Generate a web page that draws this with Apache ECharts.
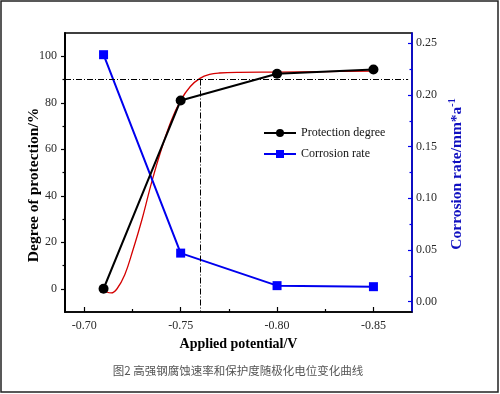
<!DOCTYPE html>
<html>
<head>
<meta charset="utf-8">
<script src="https://cdn.jsdelivr.net/npm/echarts@6/dist/echarts.min.js"></script>
<style>
html,body{margin:0;padding:0;background:#fff;}
#chart{width:500px;height:394px;}
</style>
</head>
<body>
<div id="chart"></div>
<script>
// Data
const potentials = [-0.71, -0.75, -0.80, -0.85];
const protectionDegree = [0, 81, 92.5, 94.3];
const corrosionRate = [0.239, 0.047, 0.0155, 0.0145];

// Red fitted curve
const fitPotentials = [-0.710, -0.712, -0.714, -0.717, -0.721, -0.725, -0.730, -0.735, -0.740, -0.745, -0.750, -0.755, -0.760, -0.765, -0.770, -0.780, -0.800, -0.825, -0.850];
const fitProtection = [0, -1.5, -1.8, 0, 6, 16, 30, 46, 60, 72, 81, 87, 90.5, 92.2, 92.8, 93.1, 93.2, 93.4, 93.6];

const xMajorTicks = [-0.70, -0.75, -0.80, -0.85];
const xMinorTicks = [-0.725, -0.775, -0.825];
const leftMajorTicks = [0, 20, 40, 60, 80, 100];
const leftMinorTicks = [10, 30, 50, 70, 90];
const rightMajorTicks = [0, 0.05, 0.10, 0.15, 0.20, 0.25];
const rightMinorTicks = [0.025, 0.075, 0.125, 0.175, 0.225];

const refLevel = 90;
const refPotential = -0.76;

const serif = '"Liberation Serif", "DejaVu Serif", serif';
const labelColor = '#2a2a2a';
const blue = '#0000ee';

const chart = echarts.init(document.getElementById('chart'));
const option = {
  animation: false,
  backgroundColor: '#ffffff',
  grid: {
    left: 65, right: 88, top: 33, bottom: 82,
    show: true, borderColor: '#000', borderWidth: 1.5, backgroundColor: 'transparent'
  },
  legend: {
    orient: 'vertical',
    left: 258, top: 122,
    itemWidth: 32, itemHeight: 10, itemGap: 9,
    data: ['Protection degree', 'Corrosion rate'],
    textStyle: { fontFamily: serif, fontSize: 12, color: '#111' }
  },
  xAxis: [
    {
      type: 'value', inverse: true, min: -0.87, max: -0.69, position: 'bottom',
      name: 'Applied potential/V', nameLocation: 'middle', nameGap: 24,
      nameTextStyle: { fontFamily: serif, fontSize: 14, fontWeight: 'bold', color: '#000' },
      axisLine: { show: true, onZero: false, lineStyle: { color: '#000', width: 1.5 } },
      axisTick: { show: true, inside: true, length: 5, customValues: xMajorTicks, lineStyle: { color: '#000', width: 1.2 } },
      axisLabel: { customValues: xMajorTicks, margin: 8, fontFamily: serif, fontSize: 12, color: labelColor,
        formatter: v => v.toFixed(2) },
      splitLine: { show: false }
    },
    {
      type: 'value', inverse: true, min: -0.87, max: -0.69, position: 'bottom',
      axisLine: { show: false, onZero: false },
      axisTick: { show: true, inside: true, length: 3, customValues: xMinorTicks, lineStyle: { color: '#000', width: 1.2 } },
      axisLabel: { show: false },
      splitLine: { show: false }
    }
  ],
  yAxis: [
    {
      type: 'value', min: -10, max: 110, position: 'left',
      axisLine: { show: true, onZero: false, lineStyle: { color: '#000', width: 2 } },
      axisTick: { show: true, inside: false, length: 4, customValues: leftMajorTicks, lineStyle: { color: '#000', width: 1.2 } },
      axisLabel: { customValues: leftMajorTicks, margin: 8, fontFamily: serif, fontSize: 12, color: labelColor },
      splitLine: { show: false }
    },
    {
      type: 'value', min: -0.01, max: 0.26, position: 'right',
      axisLine: { show: true, onZero: false, lineStyle: { color: blue, width: 1.5 } },
      axisTick: { show: true, inside: true, length: 4, customValues: rightMajorTicks, lineStyle: { color: blue, width: 1.2 } },
      axisLabel: { customValues: rightMajorTicks, margin: 4, fontFamily: serif, fontSize: 12, color: labelColor,
        formatter: v => v.toFixed(2) },
      splitLine: { show: false }
    },
    {
      type: 'value', min: -10, max: 110, position: 'left',
      axisLine: { show: false, onZero: false },
      axisTick: { show: true, inside: false, length: 2.5, customValues: leftMinorTicks, lineStyle: { color: '#000', width: 1.2 } },
      axisLabel: { show: false },
      splitLine: { show: false }
    },
    {
      type: 'value', min: -0.01, max: 0.26, position: 'right',
      axisLine: { show: false, onZero: false },
      axisTick: { show: true, inside: true, length: 2.5, customValues: rightMinorTicks, lineStyle: { color: blue, width: 1.2 } },
      axisLabel: { show: false },
      splitLine: { show: false }
    }
  ],
  series: [
    {
      name: 'Fit', type: 'line', xAxisIndex: 0, yAxisIndex: 0,
      data: fitPotentials.map((x, i) => [x, fitProtection[i]]),
      smooth: 0.4, showSymbol: false, symbol: 'none',
      lineStyle: { color: '#d40000', width: 1.3 },
      z: 2,
      markLine: {
        silent: true, symbol: 'none', label: { show: false },
        lineStyle: { color: '#000', width: 1, type: [6, 2, 1, 2] },
        data: [
          [{ coord: [-0.69, refLevel] }, { coord: [-0.868, refLevel] }],
          [{ coord: [refPotential, refLevel] }, { coord: [refPotential, -10] }]
        ]
      }
    },
    {
      name: 'Protection degree', type: 'line', xAxisIndex: 0, yAxisIndex: 0,
      data: potentials.map((x, i) => [x, protectionDegree[i]]),
      symbol: 'circle', symbolSize: 10,
      itemStyle: { color: '#000' },
      lineStyle: { color: '#000', width: 2 },
      z: 4
    },
    {
      name: 'Corrosion rate', type: 'line', xAxisIndex: 0, yAxisIndex: 1,
      data: potentials.map((x, i) => [x, corrosionRate[i]]),
      symbol: 'rect', symbolSize: 9,
      itemStyle: { color: '#0000ff' },
      lineStyle: { color: blue, width: 2 },
      z: 3
    }
  ],
  graphic: [
    {
      type: 'text', x: 34, y: 185, rotation: Math.PI / 2,
      style: { text: 'Degree of protection/%', fontFamily: serif, fontSize: 15.5, fontWeight: 'bold', fill: '#000',
        align: 'center', verticalAlign: 'middle' }
    },
    {
      type: 'text', x: 457, y: 174, rotation: Math.PI / 2,
      style: {
        text: '{a|Corrosion rate/mm*a}{s|-1}',
        align: 'center', verticalAlign: 'middle',
        rich: {
          a: { fontFamily: serif, fontSize: 15.5, fontWeight: 'bold', fill: '#1010c0', color: '#1010c0' },
          s: { fontFamily: serif, fontSize: 10, fontWeight: 'bold', fill: '#1010c0', color: '#1010c0', verticalAlign: 'top', padding: [0, 0, 9, 0] }
        }
      }
    },
    {
      type: 'text', x: 238, y: 371,
      style: { text: '图2 高强钢腐蚀速率和保护度随极化电位变化曲线', fontFamily: '"Noto Sans CJK SC", sans-serif',
        fontSize: 11.5, fill: '#555', align: 'center', verticalAlign: 'middle' }
    },
    {
      type: 'rect', shape: { x: 1, y: 1, width: 497, height: 391 },
      style: { fill: 'none', stroke: '#222', lineWidth: 1.5 }, silent: true
    }
  ]
};
chart.setOption(option);
</script>
</body>
</html>
